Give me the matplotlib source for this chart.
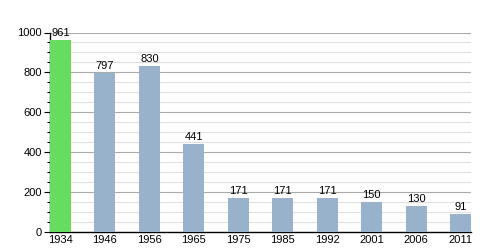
import matplotlib.pyplot as plt
import numpy as np
from matplotlib.ticker import MultipleLocator

years = ['1934', '1946', '1956', '1965', '1975', '1985', '1992', '2001', '2006', '2011']
population = [961, 797, 830, 441, 171, 171, 171, 150, 130, 91]

plt.rcParams['font.family'] = ['Liberation Sans', 'DejaVu Sans']

fig = plt.figure(figsize=(5, 2.5), dpi=100)
ax = fig.add_axes([0.1, 0.072, 0.842, 0.798])

w = 0.47
x = np.arange(len(years))
colors = ['#66dd5e'] + ['#98b2cc'] * (len(years) - 1)
ax.bar(x, population, width=w, color=colors, zorder=3)

for xi, v in zip(x, population):
    ax.annotate(str(v), (xi, v), xytext=(0, 1.5), textcoords='offset points',
                ha='center', va='bottom', fontsize=8, zorder=4)

ax.set_xlim(-w / 2, len(years) - 1 + w / 2)
ax.set_ylim(0, 1000)
ax.set_xticks(x)
ax.set_xticklabels(years)
ax.yaxis.set_major_locator(MultipleLocator(200))
ax.yaxis.set_minor_locator(MultipleLocator(50))
ax.grid(axis='y', which='major', color='#aaaaaa', linewidth=0.8, zorder=1)
ax.grid(axis='y', which='minor', color='#e0e0e0', linewidth=0.8, zorder=1)

for s in ['top', 'right']:
    ax.spines[s].set_visible(False)
ax.spines['left'].set_linewidth(1)
ax.spines['bottom'].set_linewidth(1)
ax.tick_params(axis='x', length=0, labelsize=8, pad=2)
ax.tick_params(axis='y', which='major', length=4, width=0.8, labelsize=8, pad=2)
ax.tick_params(axis='y', which='minor', length=2.5, width=0.8)

fig.savefig('out.png', dpi=100)
